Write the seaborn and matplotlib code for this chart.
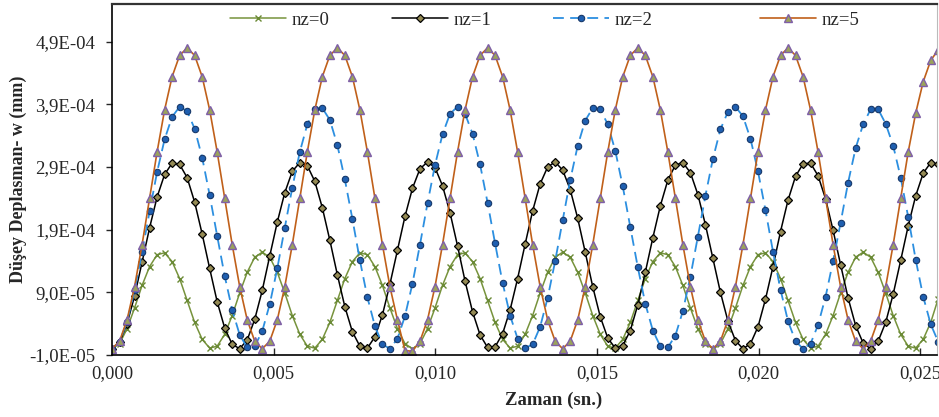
import numpy as np
import matplotlib
matplotlib.use("Agg")
import matplotlib.pyplot as plt
import seaborn as sns
from matplotlib.ticker import FuncFormatter

# zaman (ms)
zaman_ms = [0.000, 0.232, 0.465, 0.697, 0.929, 1.162, 1.394, 1.626, 1.858, 2.091,
            2.323, 2.555, 2.788, 3.020, 3.252, 3.485, 3.717, 3.949, 4.181, 4.414,
            4.646, 4.878, 5.111, 5.343, 5.575, 5.808, 6.040, 6.272, 6.504, 6.737,
            6.969, 7.201, 7.434, 7.666, 7.898, 8.131, 8.363, 8.595, 8.827, 9.060,
            9.292, 9.524, 9.757, 9.989, 10.221, 10.454, 10.686, 10.918, 11.150, 11.383,
            11.615, 11.847, 12.080, 12.312, 12.544, 12.777, 13.009, 13.241, 13.473, 13.706,
            13.938, 14.170, 14.403, 14.635, 14.867, 15.100, 15.332, 15.564, 15.796, 16.029,
            16.261, 16.493, 16.726, 16.958, 17.190, 17.423, 17.655, 17.887, 18.119, 18.352,
            18.584, 18.816, 19.049, 19.281, 19.513, 19.746, 19.978, 20.210, 20.442, 20.675,
            20.907, 21.139, 21.372, 21.604, 21.836, 22.069, 22.301, 22.533, 22.765, 22.998,
            23.230, 23.462, 23.695, 23.927, 24.159, 24.392, 24.624, 24.856, 25.088, 25.321,
            25.553, 25.785]

# dusey deplasman w (x 1e-5 mm)
nz0 = [0.0, 0.8, 3.2, 6.5, 10.1, 13.1, 15.0, 15.3, 13.9, 11.2,
       7.7, 4.2, 1.5, 0.1, 0.4, 2.3, 5.3, 8.9, 12.2, 14.6,
       15.4, 14.6, 12.2, 8.9, 5.3, 2.3, 0.4, 0.1, 1.5, 4.2,
       7.7, 11.2, 13.9, 15.3, 15.0, 13.1, 10.1, 6.5, 3.2, 0.8,
       0.0, 0.8, 3.2, 6.5, 10.1, 13.1, 15.0, 15.3, 13.9, 11.2,
       7.7, 4.2, 1.5, 0.1, 0.4, 2.3, 5.3, 8.9, 12.2, 14.6,
       15.4, 14.6, 12.2, 8.9, 5.3, 2.3, 0.4, 0.1, 1.5, 4.2,
       7.7, 11.2, 13.9, 15.3, 15.0, 13.1, 10.1, 6.5, 3.2, 0.8,
       0.0, 0.8, 3.2, 6.5, 10.1, 13.1, 15.0, 15.3, 13.9, 11.2,
       7.7, 4.2, 1.5, 0.1, 0.4, 2.3, 5.3, 8.9, 12.2, 14.6,
       15.4, 14.6, 12.2, 8.9, 5.3, 2.3, 0.4, 0.1, 1.5, 4.2,
       8.0, 11.2]

nz1 = [0.0, 1.0, 4.0, 8.4, 13.8, 19.3, 24.2, 27.8, 29.6, 29.4,
       27.3, 23.4, 18.3, 12.8, 7.5, 3.3, 0.7, 0.0, 1.4, 4.7,
       9.3, 14.8, 20.2, 24.9, 28.3, 29.7, 29.2, 26.7, 22.5, 17.3,
       11.8, 6.7, 2.7, 0.4, 0.1, 1.9, 5.4, 10.3, 15.7, 21.1,
       25.6, 28.7, 29.8, 28.9, 26.0, 21.7, 16.4, 10.8, 5.9, 2.2,
       0.2, 0.3, 2.4, 6.2, 11.2, 16.7, 22.0, 26.3, 29.0, 29.8,
       28.5, 25.4, 20.8, 15.4, 9.9, 5.1, 1.7, 0.1, 0.5, 2.9,
       7.0, 12.2, 17.7, 22.8, 26.9, 29.3, 29.7, 28.1, 24.6, 19.8,
       14.4, 9.0, 4.4, 1.3, 0.0, 0.8, 3.5, 7.9, 13.1, 18.7,
       23.7, 27.5, 29.5, 29.6, 27.6, 23.9, 18.9, 13.4, 8.1, 3.7,
       0.9, 0.0, 1.2, 4.2, 8.7, 14.1, 19.6, 24.4, 28.0, 29.7,
       29.4, 27.0]

nz2 = [0.0, 1.1, 4.3, 9.3, 15.4, 21.9, 28.2, 33.4, 37.0, 38.6,
       37.9, 35.1, 30.5, 24.5, 18.0, 11.6, 6.2, 2.2, 0.2, 0.4,
       2.8, 7.1, 12.8, 19.3, 25.7, 31.4, 35.8, 38.2, 38.4, 36.5,
       32.5, 27.0, 20.7, 14.1, 8.2, 3.6, 0.7, 0.0, 1.6, 5.2,
       10.4, 16.6, 23.2, 29.3, 34.2, 37.5, 38.6, 37.5, 34.3, 29.4,
       23.3, 16.8, 10.5, 5.3, 1.6, 0.1, 0.7, 3.5, 8.1, 14.0,
       20.5, 26.9, 32.4, 36.4, 38.4, 38.2, 35.8, 31.6, 25.9, 19.4,
       13.0, 7.2, 2.9, 0.4, 0.2, 2.1, 6.0, 11.5, 17.9, 24.4,
       30.3, 35.0, 37.8, 38.6, 37.1, 33.5, 28.3, 22.1, 15.5, 9.4,
       4.4, 1.2, 0.0, 0.8, 3.8, 8.3, 14.0, 20.1, 26.5, 32.0,
       35.8, 38.2, 38.2, 35.9, 32.4, 27.3, 21.0, 14.2, 8.3, 3.9,
       1.1, 0.0]

nz5 = [0.0, 1.2, 4.6, 9.9, 16.6, 24.0, 31.4, 38.1, 43.4, 46.8,
       48.0, 46.8, 43.4, 38.1, 31.4, 24.0, 16.6, 9.9, 4.6, 1.2,
       0.0, 1.2, 4.6, 9.9, 16.6, 24.0, 31.4, 38.1, 43.4, 46.8,
       48.0, 46.8, 43.4, 38.1, 31.4, 24.0, 16.6, 9.9, 4.6, -0.3,
       -0.4, 1.2, 4.6, 9.9, 16.6, 24.0, 31.4, 38.1, 43.4, 46.8,
       48.0, 46.8, 43.4, 38.1, 31.4, 24.0, 16.6, 9.9, 4.6, 1.2,
       0.0, 1.2, 4.6, 9.9, 16.6, 24.0, 31.4, 38.1, 43.4, 46.8,
       48.0, 46.8, 43.4, 38.1, 31.4, 24.0, 16.6, 9.9, 4.6, 1.2,
       0.0, 1.2, 4.6, 9.9, 16.6, 24.0, 31.4, 38.1, 43.4, 46.8,
       48.0, 46.8, 43.4, 38.1, 31.4, 24.0, 16.6, 9.9, 4.6, 1.2,
       0.0, 1.2, 4.6, 9.9, 16.6, 24.0, 31.4, 37.6, 42.6, 46.0,
       47.7, 47.0]

labels = ["nz=0", "nz=1", "nz=2", "nz=5"]
x_ticks = [0.000, 0.005, 0.010, 0.015, 0.020, 0.025]
y_ticks = [-1.0e-5, 9.0e-5, 1.9e-4, 2.9e-4, 3.9e-4, 4.9e-4]

styles = [
    dict(color="#77933C", lw=1.1, marker="x", markersize=4.5,
         markeredgecolor="#6A8A35", markeredgewidth=1.0),
    dict(color="black", lw=1.1, marker="D", markersize=3.6,
         markerfacecolor="#948A54", markeredgecolor="black", markeredgewidth=0.9),
    dict(color="#2C8FE0", lw=1.3, linestyle=(0, (6, 3.5)), marker="o", markersize=4.6,
         markerfacecolor="#1F5FB0", markeredgecolor="#16386A", markeredgewidth=0.8),
    dict(color="#C0601A", lw=1.2, marker="^", markersize=5.6,
         markerfacecolor="#9BA35A", markeredgecolor="#7F5FA8", markeredgewidth=1.0),
]

sns.set_style("white")
plt.rcParams['font.family'] = ['Liberation Serif', 'DejaVu Serif']

fig = plt.figure(figsize=(9.39, 4.17), dpi=100)
ax = fig.add_axes([0.1193, 0.1487, 0.8791, 0.8417])

t = np.array(zaman_ms) / 1000.0
for lab, vals, st in zip(labels, [nz0, nz1, nz2, nz5], styles):
    sns.lineplot(x=t, y=np.array(vals) * 1e-5, ax=ax, label=lab, **st)

ax.set_xlim(0, 0.02553)
ax.set_ylim(-1.0e-5, 5.5e-4)
ax.set_xticks(x_ticks)
ax.set_yticks(y_ticks)
ax.xaxis.set_major_formatter(FuncFormatter(lambda v, p: f"{v:.3f}".replace(".", ",")))
ax.yaxis.set_major_formatter(FuncFormatter(lambda v, p: f"{v:.1E}".replace(".", ",")))
ax.tick_params(axis="x", direction="in", length=5, width=1, pad=7, labelsize=13.5, bottom=True)
ax.tick_params(axis="y", direction="out", length=4, width=1, pad=8, labelsize=13.5, left=True)

ax.set_xlabel("Zaman (sn.)", fontsize=13.5, fontweight="bold")
ax.set_ylabel("Düşey Deplasman- w (mm)", fontsize=13, fontweight="bold")
ax.xaxis.set_label_coords(0.5354, -0.105)
ax.yaxis.set_label_coords(-0.103, 0.5)

for side in ["left", "bottom"]:
    ax.spines[side].set_color("black")
    ax.spines[side].set_linewidth(1.2)
ax.spines["top"].set_color("#333333")
ax.spines["top"].set_linewidth(1.6)
ax.spines["right"].set_color("#BBBBBB")
ax.spines["right"].set_linewidth(0.8)

# legend entries spread across the top, like the original
handles, labs = ax.get_legend_handles_labels()
leg_x = [0.1429, 0.3392, 0.5342, 0.7850]
legs = []
for h, lab, xx in zip(handles, labs, leg_x):
    lg = ax.legend([h], [lab], loc="center left", bbox_to_anchor=(xx, 0.954),
                   frameon=False, fontsize=13.5, handlelength=3.0, handletextpad=0.3,
                   borderpad=0, borderaxespad=0)
    legs.append(lg)
for lg in legs[:-1]:
    ax.add_artist(lg)

fig.savefig("out.png", dpi=100)
